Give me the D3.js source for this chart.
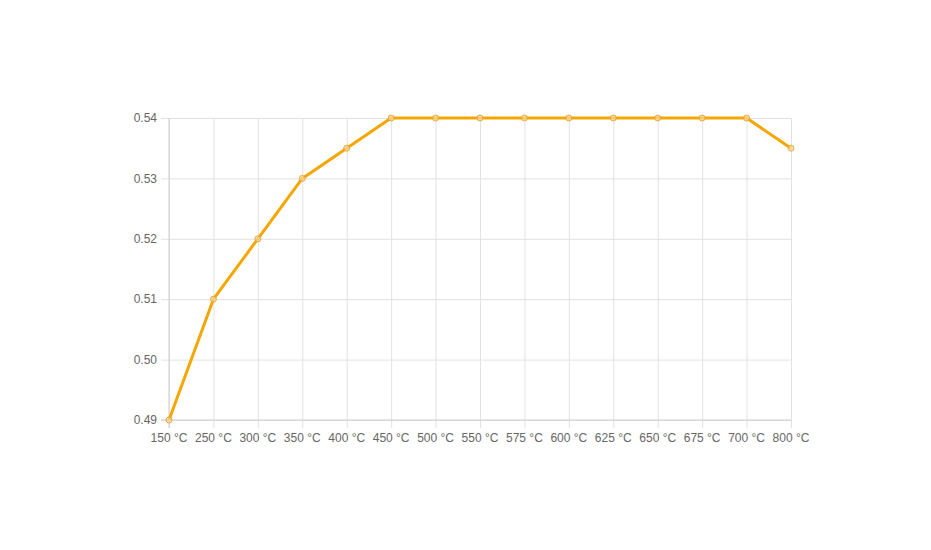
<!DOCTYPE html>
<html>
<head>
<meta charset="utf-8">
<script src="https://cdn.jsdelivr.net/npm/d3@7"></script>
<style>
  html, body { margin: 0; padding: 0; background: #fff; }
  text { font-family: "Liberation Sans", Arial, sans-serif; }
</style>
</head>
<body>
<div class="chart"></div>
<script>
'use strict';

const temps = ['150 °C', '250 °C', '300 °C', '350 °C', '400 °C', '450 °C', '500 °C', '550 °C',
  '575 °C', '600 °C', '625 °C', '650 °C', '675 °C', '700 °C', '800 °C'];
const values = [0.49, 0.51, 0.52, 0.53, 0.535, 0.54, 0.54, 0.54, 0.54, 0.54, 0.54, 0.54, 0.54, 0.54, 0.535];
const yTicks = [0.49, 0.50, 0.51, 0.52, 0.53, 0.54];

const FULL_WIDTH = 931;
const FULL_HEIGHT = 550;
const margin = { top: 118, right: 140, bottom: 130, left: 169 };
const WIDTH = FULL_WIDTH - margin.left - margin.right;
const HEIGHT = FULL_HEIGHT - margin.top - margin.bottom;

const lineColor = '#f5a700';
const gridColor = '#e2e2e2';
const labelColor = '#666666';

const svg = d3.select('.chart')
  .append('svg')
    .attr('width', FULL_WIDTH)
    .attr('height', FULL_HEIGHT)
  .append('g')
    .attr('transform', 'translate(' + margin.left + ',' + margin.top + ')');

const x = d3.scalePoint()
  .domain(temps)
  .range([0, WIDTH]);

const y = d3.scaleLinear()
  .domain([0.49, 0.54])
  .range([HEIGHT, 0]);

// grid lines
svg.append('g')
  .attr('class', 'grid-x')
  .attr('transform', 'translate(0,' + HEIGHT + ')')
  .call(d3.axisBottom(x).tickSize(-HEIGHT - 0).tickFormat(''))
  .call((g) => g.select('.domain').remove())
  .call((g) => g.selectAll('line').attr('stroke', gridColor).attr('y2', -HEIGHT).attr('y1', 8));

svg.append('g')
  .attr('class', 'grid-y')
  .call(d3.axisLeft(y).tickValues(yTicks).tickSize(0).tickFormat(''))
  .call((g) => g.select('.domain').remove())
  .call((g) => g.selectAll('line').attr('stroke', gridColor).attr('x1', -8).attr('x2', WIDTH));

// axis baselines
svg.append('line')
  .attr('x1', 0).attr('x2', 0)
  .attr('y1', 0).attr('y2', HEIGHT + 8)
  .attr('stroke', '#cfcfcf');
svg.append('line')
  .attr('x1', -8).attr('x2', WIDTH)
  .attr('y1', HEIGHT).attr('y2', HEIGHT)
  .attr('stroke', '#cfcfcf');

// labels
svg.selectAll('.y-label')
  .data(yTicks)
  .enter()
  .append('text')
  .attr('class', 'y-label')
  .attr('x', -12)
  .attr('y', (d) => y(d))
  .attr('dy', '0.35em')
  .attr('text-anchor', 'end')
  .attr('font-size', 12)
  .attr('fill', labelColor)
  .text((d) => d.toFixed(2));

svg.selectAll('.x-label')
  .data(temps)
  .enter()
  .append('text')
  .attr('class', 'x-label')
  .attr('x', (d) => x(d))
  .attr('y', HEIGHT + 22)
  .attr('text-anchor', 'middle')
  .attr('font-size', 12)
  .attr('fill', labelColor)
  .text((d) => d);

const line = d3.line()
  .x((d, i) => x(temps[i]))
  .y((d) => y(d));

svg.append('path')
  .datum(values)
  .attr('fill', 'none')
  .attr('stroke', lineColor)
  .attr('stroke-width', 3)
  .attr('stroke-linejoin', 'round')
  .attr('d', line);

svg.selectAll('.pt')
  .data(values)
  .enter()
  .append('circle')
  .attr('class', 'pt')
  .attr('cx', (d, i) => x(temps[i]))
  .attr('cy', (d) => y(d))
  .attr('r', 3)
  .attr('fill', 'rgba(250,215,150,0.7)')
  .attr('stroke', 'rgba(225,160,50,0.85)')
  .attr('stroke-width', 1);
</script>
</body>
</html>
